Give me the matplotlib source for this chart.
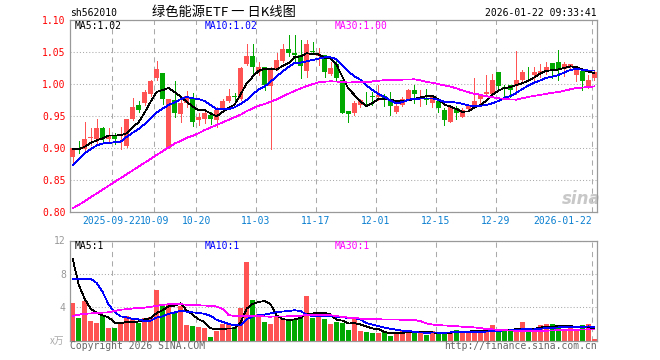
import matplotlib
matplotlib.use('Agg')
import matplotlib.pyplot as plt
import numpy as np
import pandas as pd

# -----------------------------------------------------------------------------
# data (read off the sina daily K chart of sh562010)
# -----------------------------------------------------------------------------
trade_days = {
    '2025-09': [11, 12, 15, 16, 17, 18, 19, 22, 23, 24, 25, 26, 29, 30],
    '2025-10': [9, 10, 13, 14, 15, 16, 17, 20, 21, 22, 23, 24, 27, 28, 29, 30, 31],
    '2025-11': [3, 4, 5, 6, 7, 10, 11, 12, 13, 14, 17, 18, 19, 20, 21, 24, 25, 26, 27, 28],
    '2025-12': [1, 2, 3, 4, 5, 8, 9, 10, 11, 12, 15, 16, 17, 18, 19, 22, 23, 24, 25, 26, 29, 30, 31],
    '2026-01': [5, 6, 7, 8, 9, 12, 13, 14, 15, 16, 19, 20, 21, 22],
}
dates = ['{}-{:02d}'.format(m, d) for m, ds in trade_days.items() for d in ds]

opens = [0.886, 0.900, 0.899, 0.916, 0.914, 0.932, 0.914, 0.920, 0.918, 0.903,
         0.945, 0.967, 0.970, 0.984, 1.009, 1.017, 0.900, 0.975, 0.953, 0.970,
         0.978, 0.943, 0.946, 0.952, 0.944, 0.959, 0.974, 0.981, 0.977, 1.031,
         1.044, 1.019, 1.026, 0.997, 1.023, 1.036, 1.055, 1.049, 1.045, 1.021,
         1.051, 1.044, 1.045, 1.016, 1.032, 1.006, 0.958, 0.954, 0.967, 0.974,
         0.981, 0.979, 0.981, 0.973, 0.957, 0.967, 0.977, 0.991, 0.977, 0.976,
         0.970, 0.973, 0.960, 0.941, 0.962, 0.949, 0.961, 0.966, 0.976, 0.984,
         0.984, 1.018, 0.995, 0.998, 0.997, 1.006, 1.019, 1.014, 1.015, 1.022,
         1.033, 1.035, 1.024, 1.026, 1.014, 1.021, 0.997, 1.010]
highs = [0.900, 0.911, 0.940, 0.932, 0.946, 0.933, 0.931, 0.923, 0.933, 0.945,
         0.978, 0.974, 0.990, 1.006, 1.036, 1.017, 0.977, 1.004, 0.981, 0.989,
         0.986, 0.955, 0.960, 0.957, 0.964, 0.977, 0.992, 0.986, 1.026, 1.062,
         1.062, 1.035, 1.027, 1.027, 1.049, 1.062, 1.077, 1.077, 1.068, 1.069,
         1.066, 1.056, 1.045, 1.035, 1.037, 1.006, 0.958, 0.973, 0.977, 0.988,
         0.988, 0.999, 0.984, 0.988, 0.969, 0.979, 0.992, 0.999, 0.991, 0.992,
         0.981, 0.975, 0.962, 0.964, 0.965, 0.962, 0.966, 1.010, 0.984, 1.014,
         1.016, 1.018, 0.999, 0.998, 1.051, 1.022, 1.026, 1.026, 1.032, 1.034,
         1.033, 1.053, 1.034, 1.032, 1.027, 1.024, 1.014, 1.022]
lows = [0.873, 0.892, 0.897, 0.905, 0.907, 0.910, 0.910, 0.907, 0.898, 0.901,
        0.944, 0.956, 0.967, 0.981, 1.006, 0.969, 0.900, 0.949, 0.941, 0.964,
        0.934, 0.936, 0.939, 0.938, 0.933, 0.958, 0.972, 0.972, 0.975, 1.029,
        1.017, 1.014, 0.991, 0.898, 1.022, 1.035, 1.043, 1.035, 1.010, 1.011,
        1.047, 1.030, 1.011, 1.014, 1.004, 0.954, 0.940, 0.952, 0.964, 0.969,
        0.967, 0.975, 0.966, 0.952, 0.955, 0.965, 0.975, 0.970, 0.965, 0.969,
        0.964, 0.957, 0.936, 0.940, 0.946, 0.948, 0.958, 0.964, 0.970, 0.983,
        0.983, 0.992, 0.980, 0.980, 0.985, 1.005, 1.005, 1.007, 1.011, 1.015,
        1.010, 1.007, 1.012, 1.022, 1.004, 0.990, 0.993, 1.007]
closes = [0.900, 0.898, 0.914, 0.917, 0.931, 0.915, 0.920, 0.914, 0.920, 0.945,
          0.964, 0.959, 0.988, 1.005, 1.023, 0.977, 0.977, 0.954, 0.971, 0.982,
          0.940, 0.948, 0.955, 0.945, 0.960, 0.973, 0.981, 0.980, 1.025, 1.044,
          1.026, 1.027, 0.998, 1.024, 1.037, 1.055, 1.049, 1.046, 1.028, 1.062,
          1.050, 1.046, 1.019, 1.025, 1.010, 0.955, 0.953, 0.971, 0.975, 0.973,
          0.980, 0.983, 0.975, 0.965, 0.966, 0.977, 0.990, 0.984, 0.979, 0.975,
          0.980, 0.962, 0.943, 0.964, 0.955, 0.959, 0.965, 0.973, 0.984, 0.988,
          1.006, 0.997, 0.994, 0.990, 1.006, 1.019, 1.018, 1.019, 1.020, 1.027,
          1.024, 1.023, 1.032, 1.032, 1.022, 1.005, 1.007, 1.019]
# volume in units of 10k lots (x万)
volumes = [4.56, 2.76, 4.80, 2.40, 2.16, 2.96, 1.56, 1.56, 2.08, 2.96,
           2.68, 2.16, 2.76, 2.80, 6.08, 4.40, 4.40, 3.28, 4.16, 1.88,
           1.76, 1.64, 1.56, 0.48, 1.20, 2.00, 2.00, 1.60, 3.96, 9.44,
           4.88, 3.20, 2.24, 2.00, 2.80, 2.68, 2.56, 2.64, 2.88, 5.36,
           2.76, 2.96, 2.56, 2.00, 2.20, 2.16, 1.28, 2.80, 1.16, 1.00,
           0.96, 0.96, 1.00, 0.56, 0.96, 1.16, 1.28, 0.88, 0.88, 0.68,
           1.16, 0.88, 0.88, 1.00, 1.28, 1.00, 1.16, 1.28, 1.08, 1.00,
           1.88, 1.16, 1.16, 1.16, 1.40, 2.20, 1.08, 1.16, 1.88, 2.00,
           2.00, 1.68, 1.40, 1.68, 1.28, 1.88, 2.00, 0.20]

# moving-average values at the start of the window (history is off-chart)
ma5_head = [0.899, 0.898, 0.902, 0.908]
ma10_head = [0.873, 0.882, 0.892, 0.898, 0.904, 0.907, 0.908, 0.909, 0.910]
ma30_head = [0.806, 0.811, 0.817, 0.823, 0.829, 0.835, 0.841, 0.847, 0.853,
             0.859, 0.865, 0.871, 0.877, 0.883, 0.889, 0.895, 0.901, 0.907,
             0.911, 0.916, 0.919, 0.923, 0.928, 0.932, 0.936, 0.940, 0.944,
             0.948, 0.952]
vma5_head = [9.8, 6.7, 5.0, 3.8]
vma10_head = [7.36, 7.36, 7.36, 7.4, 6.9, 5.8, 4.3, 3.4, 2.9]
vma30_head = [2.94, 3.10, 3.20, 3.25, 3.30, 3.35, 3.38, 3.55, 3.70, 3.75,
              3.85, 3.90, 3.95, 4.05, 4.15, 4.28, 4.35, 4.35, 4.35, 4.30,
              4.28, 4.22, 4.20, 4.15, 4.08, 3.80, 3.05, 2.95, 2.90]

tick_dates = ['2025-09-22', '2025-10-09', '2025-10-20', '2025-11-03',
              '2025-11-17', '2025-12-01', '2025-12-15', '2025-12-29',
              '2026-01-22']
tick_labels = ['2025-09-22', '10-09', '10-20', '11-03', '11-17', '12-01',
               '12-15', '12-29', '2026-01-22']
price_ticks = [0.80, 0.85, 0.90, 0.95, 1.00, 1.05, 1.10]
vol_ticks = [4, 8, 12]

#------------------------------------------------------------------------------
# helpers
#------------------------------------------------------------------------------
def moving_average(values, n, head):
    ma = pd.Series(values, dtype=float).rolling(n).mean().to_numpy()
    ma[:len(head)] = head
    return ma

W, H = 660, 360

def fx(px):
    return px / W

def fy(py):
    return 1 - py / H

UP = '#ff5252'
DOWN = '#00a800'
GRID = '#aaaaaa'
MONO = 'DejaVu Sans Mono'
CJK = ['Noto Sans CJK SC', 'DejaVu Sans']

o = np.array(opens)
h = np.array(highs)
l = np.array(lows)
c = np.array(closes)
v = np.array(volumes)
x = np.arange(len(dates))
colors = np.where(c >= o, UP, DOWN)

grid_x = [dates.index(d) - 0.42 for d in tick_dates]

#------------------------------------------------------------------------------
# figure
#------------------------------------------------------------------------------
fig = plt.figure(figsize=(6.6, 3.6), dpi=100)
ax1 = fig.add_axes([fx(70), fy(212), fx(597) - fx(70), fy(20) - fy(212)])
ax2 = fig.add_axes([fx(70), fy(340.5), fx(597) - fx(70), fy(240.5) - fy(340.5)])

for ax in (ax1, ax2):
    ax.set_xlim(-0.45, len(dates) - 0.55)
    for s in ax.spines.values():
        s.set_color('#999999')
        s.set_linewidth(0.9)
    ax.set_xticks(grid_x)
    ax.grid(True, axis='x', color=GRID, linestyle=(0, (5, 4)), linewidth=0.75)
    ax.grid(True, axis='y', color=GRID, linestyle=(0, (1, 2)), linewidth=0.75)
    ax.set_axisbelow(True)
    ax.tick_params(length=0)

# price panel (pixel-crisp like the original)
ax1.vlines(x, l, h, colors=colors, linewidth=0.55, zorder=2, antialiased=False)
body_low = np.minimum(o, c)
body_h = np.maximum(np.abs(c - o), 0.0007)
ax1.bar(x, body_h, bottom=body_low, width=0.82, color=colors, linewidth=0,
        zorder=3, antialiased=False)
line = dict(lw=0.55, zorder=4, antialiased=False)
ax1.plot(x, moving_average(c, 5, ma5_head), color='black', **line)
ax1.plot(x, moving_average(c, 10, ma10_head), color='#0000ff', **line)
ax1.plot(x, moving_average(c, 30, ma30_head), color='#ff00ff', **line)

ax1.set_ylim(0.80, 1.10)
ax1.set_yticks(price_ticks)
ax1.set_yticklabels(['{:.2f}'.format(t) for t in price_ticks])
ax1.set_xticklabels(tick_labels)
ax1.tick_params(axis='y', pad=3, labelsize=7, labelcolor='#ff0000')
ax1.tick_params(axis='x', pad=3, labelsize=7, labelcolor='#0a7fd0')
for t in ax1.get_xticklabels() + ax1.get_yticklabels():
    t.set_fontfamily(MONO)
ax1.get_xticklabels()[-1].set_horizontalalignment('right')

ax1.text(0.97, 0.07, 'sina', transform=ax1.transAxes, ha='center',
         va='center', fontsize=12, fontweight='bold', fontstyle='italic',
         color='#c8c8c8', zorder=1)

# volume panel
ax2.bar(x, v, width=0.82, color=colors, linewidth=0, zorder=2,
        antialiased=False)
ax2.plot(x, moving_average(v, 5, vma5_head), color='black', **line)
ax2.plot(x, moving_average(v, 10, vma10_head), color='#0000ff', **line)
ax2.plot(x, moving_average(v, 30, vma30_head), color='#ff00ff', **line)
ax2.set_ylim(0, 12)
ax2.set_yticks(vol_ticks)
ax2.set_yticklabels([str(t) for t in vol_ticks])
ax2.set_xticklabels([])
ax2.tick_params(axis='y', pad=3, labelsize=7, labelcolor='#999999')
for t in ax2.get_yticklabels():
    t.set_fontfamily(MONO)

#------------------------------------------------------------------------------
# texts
#------------------------------------------------------------------------------
txt = dict(fontsize=7, family=MONO, va='center')
fig.text(fx(70), fy(13), 'sh562010', ha='left', color='black', **txt)
fig.text(fx(224), fy(12), '绿色能源ETF 一 日K线图', ha='center', va='center',
         fontsize=9.5, family=CJK, color='black')
fig.text(fx(597), fy(13), '2026-01-22 09:33:41', ha='right', color='black', **txt)

fig.text(fx(74.5), fy(26), 'MA5:1.02', ha='left', color='black', **txt)
fig.text(fx(204.5), fy(26), 'MA10:1.02', ha='left', color='#0000ff', **txt)
fig.text(fx(335), fy(26), 'MA30:1.00', ha='left', color='#ff00ff', **txt)

fig.text(fx(74.5), fy(246), 'MA5:1', ha='left', color='black', **txt)
fig.text(fx(204.5), fy(246), 'MA10:1', ha='left', color='#0000ff', **txt)
fig.text(fx(335), fy(246), 'MA30:1', ha='left', color='#ff00ff', **txt)

fig.text(fx(64), fy(341), 'x万', ha='right', va='center', fontsize=7,
         family=CJK, color='#aaaaaa')
fig.text(fx(69.5), fy(346), 'Copyright 2026 SINA.COM', ha='left',
         color='#666666', **txt)
fig.text(fx(597), fy(346), 'http://finance.sina.com.cn', ha='right',
         color='#666666', **txt)

fig.savefig('out.png', dpi=100, facecolor='white')
